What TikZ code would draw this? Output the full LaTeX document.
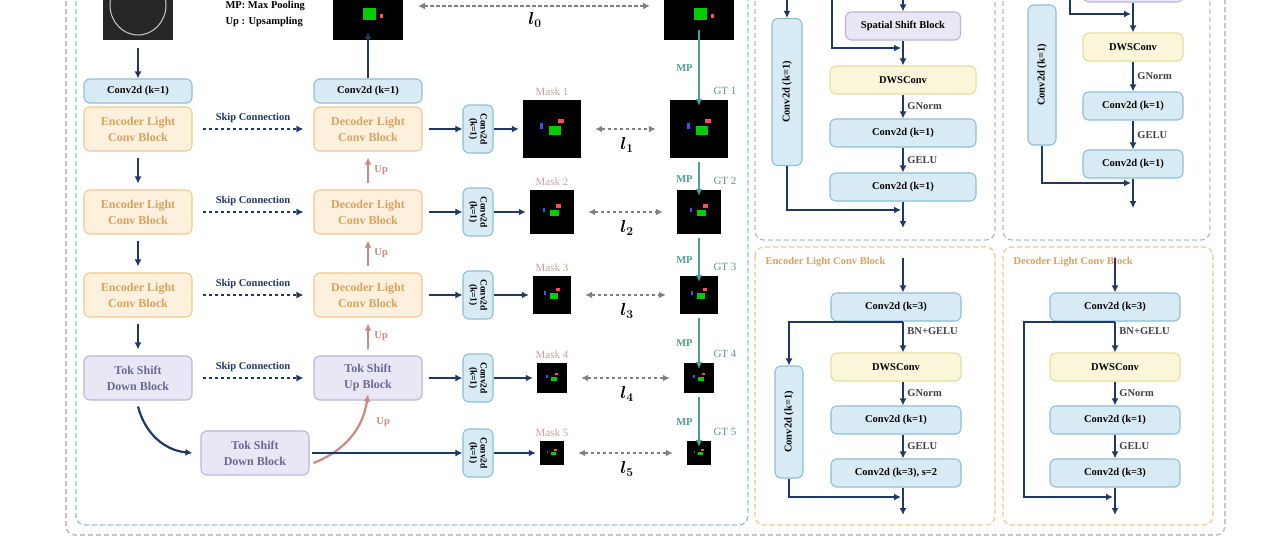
\documentclass[tikz,border=0pt]{standalone}
\usepackage{amsmath}
\usepackage{fontspec}
\setmainfont{Liberation Serif}
\usetikzlibrary{positioning,arrows.meta}
\definecolor{navy}{HTML}{1F3864}
\definecolor{bluefill}{HTML}{D8EBF4}
\definecolor{blueline}{HTML}{8EBFD6}
\definecolor{orfill}{HTML}{FDF1DE}
\definecolor{orline}{HTML}{F0C88C}
\definecolor{ortext}{HTML}{D8A25C}
\definecolor{yefill}{HTML}{FBF6DA}
\definecolor{yeline}{HTML}{E6DCA2}
\definecolor{pufill}{HTML}{E9E7F6}
\definecolor{puline}{HTML}{B9B4D9}
\definecolor{putext}{HTML}{6A6890}
\definecolor{upred}{HTML}{C98A80}
\definecolor{teal}{HTML}{4F9E96}
\definecolor{masktxt}{HTML}{C9A0A0}
\tikzset{
  box/.style={draw, rounded corners=6pt, line width=1.1pt, align=center, inner sep=1pt,
    font=\fontsize{10.5}{12}\selectfont\bfseries},
  conv/.style={box, fill=bluefill, draw=blueline, text=black},
  enc/.style={box, fill=orfill, draw=orline, text=ortext, minimum width=108pt, minimum height=44pt, font=\fontsize{12}{16}\selectfont\bfseries},
  tok/.style={box, fill=pufill, draw=puline, text=putext, minimum width=108pt, minimum height=44pt, font=\fontsize{12}{16}\selectfont\bfseries},
  dws/.style={box, fill=yefill, draw=yeline, text=black},
  img/.style={fill=black, draw=none},
  tip/.style={-{Latex[length=7pt,width=7pt]}},
  flow/.style={tip, navy, line width=2.2pt},
  skip/.style={tip, navy, line width=1.8pt, dash pattern=on 3.5pt off 2.5pt},
  loss/.style={{Latex[length=7pt,width=7pt]}-{Latex[length=7pt,width=7pt]}, gray, line width=1.8pt, dash pattern=on 3.5pt off 2.5pt},
  up/.style={tip, upred, line width=2.2pt},
  mp/.style={tip, teal, line width=2.2pt},
  lbl/.style={font=\fontsize{10.5}{12}\selectfont\bfseries},
  small/.style={font=\fontsize{10.5}{12}\selectfont\bfseries, text=black!75},
  panel/.style={dashed, dash pattern=on 5pt off 3pt, rounded corners=9pt, line width=1.2pt},
}
\begin{document}
\begin{tikzpicture}[x=1pt, y=-1pt]
\useasboundingbox (0,0) rectangle (1280,544);
\clip (0,0) rectangle (1280,544);

% Frames
\draw[panel, gray!45, line width=1.8pt] (66,-40) rectangle (1225,535);
\draw[panel, blueline] (76,-40) rectangle (748,525);
\draw[panel, puline] (755,-40) rectangle (995,240);
\draw[panel, puline] (1003,-40) rectangle (1210,240);
\draw[panel, orline] (755,247) rectangle (995,525);
\draw[panel, orline] (1003,247) rectangle (1213,525);

% Input, output and label images on top
\fill[black!85] (103,-30) rectangle (173,40);
\draw[white!60!gray, line width=1pt] (138,5) ellipse (28pt and 30pt);
\fill[img] (333,-30) rectangle (403,40);
\fill[img] (664,-30) rectangle (734,40);
\foreach \cx in {368,699}{
  \fill[green!80!black] (\cx-5,8) rectangle (\cx+8,20);
  \fill[red!70] (\cx+12,14) rectangle (\cx+15,18);
}
\coordinate (in bot) at (138,40);
\coordinate (out bot) at (368,40);
\coordinate (gt0 bot) at (699,40);
\node[lbl, anchor=west] (mp text) at (222,6) {MP: Max Pooling};
\node[lbl, anchor=west] (up text) at (222,22) {Up : Upsampling};
\coordinate (l0 a) at (418,6);
\coordinate (l0 b) at (650,6);
\draw[loss] (l0 a) -- (l0 b);
\node (l0) at (535,20) {\fontsize{17}{17}\selectfont$\boldsymbol{l_0}$};

% Encoder / decoder columns
\node[conv, minimum width=108pt, minimum height=24pt] (cin) at (138,91) {Conv2d (k=1)};
\node[conv, minimum width=108pt, minimum height=24pt] (cout) at (368,91) {Conv2d (k=1)};
\draw[flow] (in bot) ++(0,8) coordinate (in a) -- (cin);
\draw[flow] (cout) -- ([yshift=8pt]out bot);

\foreach \i/\y in {1/129,2/212,3/295}{
  \node[enc] (enc\i) at (138,\y) {Encoder Light\\Conv Block};
  \node[enc] (dec\i) at (368,\y) {Decoder Light\\Conv Block};
}
\node[tok] (enc4) at (138,378) {Tok Shift\\Down Block};
\node[tok] (dec4) at (368,378) {Tok Shift\\Up Block};
\node[tok] (bott) at (255,453) {Tok Shift\\Down Block};

\foreach \i/\j in {1/2,2/3,3/4}{
  \draw[flow] ([yshift=-6pt]enc\i.south) -- ([yshift=6pt]enc\j.north);
  \draw[up] ([yshift=6pt]dec\j.north) -- node[lbl, right=2pt] {Up} ([yshift=-6pt]dec\i.south);
}
\foreach \i in {1,...,4}{
  \draw[skip] ([xshift=10pt]enc\i.east) -- node[lbl, above=2pt] {Skip Connection} ([xshift=-10pt]dec\i.west);
}
\draw[flow] ([yshift=-6pt]enc4.south) to[bend right=35] ([xshift=-8pt]bott.west);
\draw[up] ([xshift=4pt,yshift=-10pt]bott.east) to[bend right=30] node[lbl, right=12pt, pos=0.7] {Up} ([yshift=6pt]dec4.south);

% Heads, masks and ground truth
\foreach \i/\y/\s in {1/129/29,2/212/22,3/295/19,4/378/15,5/453/12}{
  \node[conv, rotate=-90, minimum width=48pt, minimum height=30pt, inner sep=0pt,
        font=\fontsize{9.5}{10}\selectfont\bfseries] (head\i) at (478,\y) {Conv2d\\(k=1)};
  \fill[img] (552-\s,\y-\s) rectangle (552+\s,\y+\s);
  \fill[img] (699-\s,\y-\s) rectangle (699+\s,\y+\s);
  \foreach \cx in {552,699}{
    \fill[green!80!black] (\cx-0.1*\s,\y-0.1*\s) rectangle (\cx+0.3*\s,\y+0.2*\s);
    \fill[red!70] (\cx+0.2*\s,\y-0.35*\s) rectangle (\cx+0.4*\s,\y-0.2*\s);
    \fill[blue!70] (\cx-0.4*\s,\y-0.2*\s) rectangle (\cx-0.3*\s,\y);
  }
  \node[inner sep=0pt, minimum size=2*\s] (mask\i) at (552,\y) {};
  \node[inner sep=0pt, minimum size=2*\s] (gt\i) at (699,\y) {};
  \node[font=\fontsize{11}{12}\selectfont, text=masktxt, above=1pt of mask\i] (mask lbl\i) {Mask \i};
  \node[font=\fontsize{11}{12}\selectfont, text=teal!60!gray, anchor=west] (gt lbl\i) at (710,\y-\s-9) {GT \i};
  \draw[flow] (head\i) -- ([xshift=-4pt]mask\i.west);
  \draw[loss] ([xshift=14pt]mask\i.east) -- ([xshift=-14pt]gt\i.west);
  \node (l\i) at (627,\y+16) {\fontsize{17}{17}\selectfont$\boldsymbol{l_{\i}}$};
}
\foreach \i in {1,...,4}{
  \draw[flow] ([xshift=6pt]dec\i.east) -- (head\i);
}
\draw[flow] ([xshift=2pt]bott.east) -- (head5);
\draw[mp] ([yshift=10pt]gt0 bot) -- node[lbl, left=2pt] {MP} ([yshift=-6pt]gt1.north);
\foreach \i/\j in {1/2,2/3,3/4,4/5}{
  \draw[mp] ([yshift=-4pt]gt\i.south) -- node[lbl, left=2pt] {MP} ([yshift=-6pt]gt\j.north);
}

% Tok shift block detail (top left panel)
\node[conv, rotate=90, minimum width=147pt, minimum height=30pt] (tsa res) at (787,92) {Conv2d (k=1)};
\node[box, fill=pufill, draw=puline, minimum width=115pt, minimum height=28pt] (tsa ssb) at (903,26) {Spatial Shift Block};
\node[dws, minimum width=146pt, minimum height=28pt] (tsa dws) at (903,80) {DWSConv};
\node[conv, minimum width=146pt, minimum height=28pt] (tsa c1) at (903,133) {Conv2d (k=1)};
\node[conv, minimum width=146pt, minimum height=28pt] (tsa c2) at (903,187) {Conv2d (k=1)};
\coordinate (tsa top) at (903,-10);
\coordinate (tsa out) at (903,228);
\coordinate (tsa j1) at (903,48);
\coordinate (tsa j2) at (903,210);
\draw[flow] (787,-10) -- (tsa res);
\draw[flow] (tsa top) -- (tsa ssb);
\draw[flow] (tsa ssb) -- (tsa dws);
\draw[flow] (832,-10) |- ([xshift=-2pt]tsa j1);
\draw[flow] (tsa dws) -- node[small, right] {GNorm} (tsa c1);
\draw[flow] (tsa c1) -- node[small, right] {GELU} (tsa c2);
\draw[flow] (tsa c2) -- (tsa out);
\draw[flow] (tsa res) |- ([xshift=-2pt]tsa j2);

% Tok shift up detail (top right panel)
\node[conv, rotate=90, minimum width=140pt, minimum height=28pt] (tsb res) at (1042,75) {Conv2d (k=1)};
\node[box, fill=pufill, draw=puline, minimum width=100pt, minimum height=20pt] (tsb ssb) at (1133,-8) {};
\node[dws, minimum width=100pt, minimum height=28pt] (tsb dws) at (1133,47) {DWSConv};
\node[conv, minimum width=100pt, minimum height=28pt] (tsb c1) at (1133,106) {Conv2d (k=1)};
\node[conv, minimum width=100pt, minimum height=28pt] (tsb c2) at (1133,164) {Conv2d (k=1)};
\coordinate (tsb j1) at (1133,14);
\coordinate (tsb j2) at (1133,183);
\coordinate (tsb out) at (1133,208);
\draw[flow] (tsb ssb) -- (tsb dws);
\draw[flow] (1070,-10) |- ([xshift=-2pt]tsb j1);
\draw[flow] (tsb dws) -- node[small, right] {GNorm} (tsb c1);
\draw[flow] (tsb c1) -- node[small, right] {GELU} (tsb c2);
\draw[flow] (tsb c2) -- (tsb out);
\draw[flow] (tsb res) |- ([xshift=-2pt]tsb j2);

% Encoder light conv block detail
\node[font=\fontsize{10.5}{12}\selectfont\bfseries, text=ortext, anchor=west] (enc title) at (762,262) {Encoder Light Conv Block};
\node[conv, minimum width=130pt, minimum height=28pt] (elc c3) at (896,307) {Conv2d (k=3)};
\node[dws, minimum width=130pt, minimum height=28pt] (elc dws) at (896,367) {DWSConv};
\node[conv, minimum width=130pt, minimum height=28pt] (elc c1) at (896,420) {Conv2d (k=1)};
\node[conv, minimum width=130pt, minimum height=28pt] (elc c4) at (896,473) {Conv2d (k=3), s=2};
\node[conv, rotate=90, minimum width=112pt, minimum height=28pt] (elc res) at (789,422) {Conv2d (k=1)};
\coordinate (elc in) at (903,258);
\coordinate (elc br) at (903,322);
\coordinate (elc j) at (903,497);
\coordinate (elc out) at (903,515);
\draw[flow] (elc in) -- (elc c3.north -| elc in);
\draw[flow] (elc c3.south -| elc in) -- node[small, right, pos=0.3] {BN+GELU} (elc dws.north -| elc in);
\draw[flow] (elc br) -| (elc res.east);
\draw[flow] (elc dws.south -| elc in) -- node[small, right] {GNorm} (elc c1.north -| elc in);
\draw[flow] (elc c1.south -| elc in) -- node[small, right] {GELU} (elc c4.north -| elc in);
\draw[flow] (elc c4.south -| elc in) -- (elc out);
\draw[flow] (elc res.west) |- ([xshift=-2pt]elc j);

% Decoder light conv block detail
\node[font=\fontsize{10.5}{12}\selectfont\bfseries, text=ortext, anchor=west] (dec title) at (1010,262) {Decoder Light Conv Block};
\node[conv, minimum width=130pt, minimum height=28pt] (dlc c3) at (1115,307) {Conv2d (k=3)};
\node[dws, minimum width=130pt, minimum height=28pt] (dlc dws) at (1115,367) {DWSConv};
\node[conv, minimum width=130pt, minimum height=28pt] (dlc c1) at (1115,420) {Conv2d (k=1)};
\node[conv, minimum width=130pt, minimum height=28pt] (dlc c4) at (1115,473) {Conv2d (k=3)};
\coordinate (dlc in) at (1115,258);
\coordinate (dlc br) at (1115,322);
\coordinate (dlc corner) at (1024,322);
\coordinate (dlc j) at (1115,497);
\coordinate (dlc out) at (1115,515);
\draw[flow] (dlc in) -- (dlc c3);
\draw[flow] (dlc c3) -- node[small, right, pos=0.3] {BN+GELU} (dlc dws);
\draw[flow] (dlc dws) -- node[small, right] {GNorm} (dlc c1);
\draw[flow] (dlc c1) -- node[small, right] {GELU} (dlc c4);
\draw[flow] (dlc c4) -- (dlc out);
\draw[flow] (dlc br) -- (dlc corner) |- ([xshift=-2pt]dlc j);
\end{tikzpicture}
\end{document}
